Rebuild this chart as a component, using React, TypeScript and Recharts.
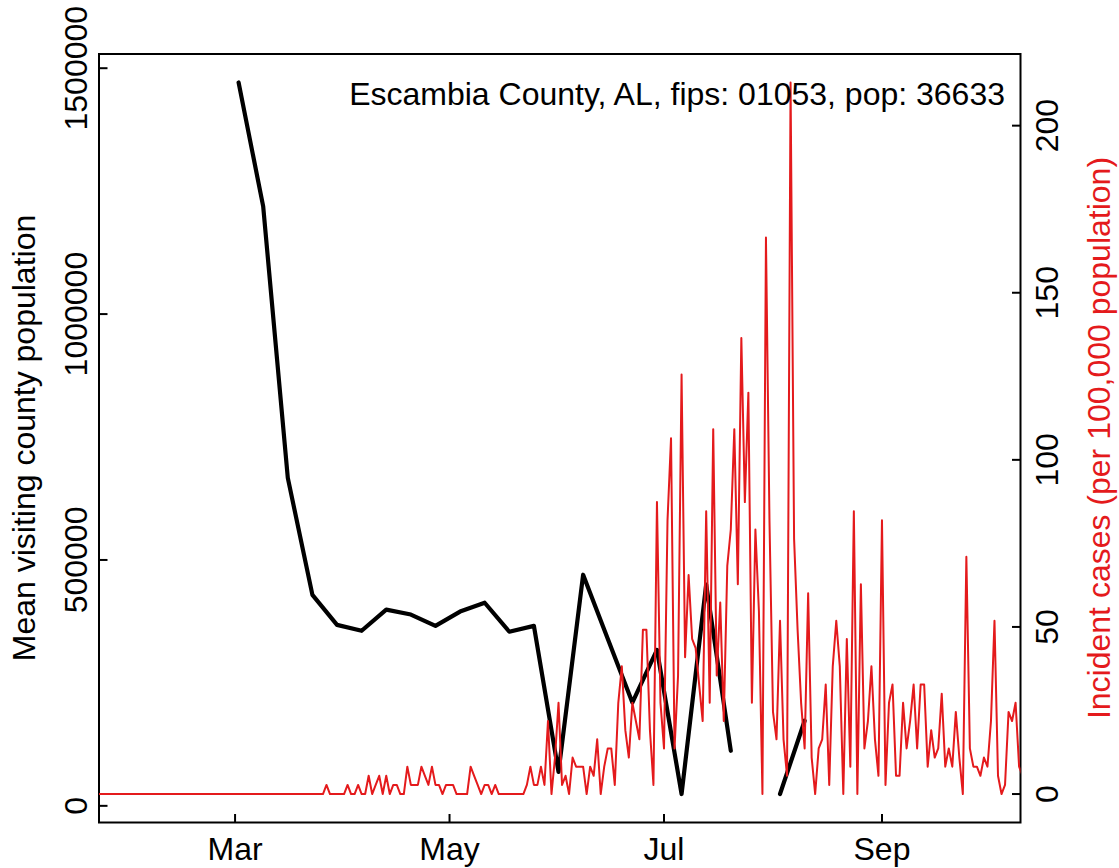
import React from "react";
import { ComposedChart, Line, XAxis, YAxis, ReferenceArea } from "recharts";

// county shown in the panel
const countyLabel = "Escambia County, AL, fips: 01053, pop: 36633";
const population = 36633;

// x axis is day of year 2020 (Jan 1 = 0)
const monthTicks = [60, 121, 182, 244];
const monthLabels = ["Mar", "May", "Jul", "Sep"];
const dayRange = [21.3, 283.4];

const visitorTicks = [0, 500000, 1000000, 1500000];
const incidenceTicks = [0, 50, 100, 150, 200];

// daily new cases, starting at day 20
const firstCaseDay = 20;
const dailyCases = [
  0, 0, 0, 0, 0, 0, 0, 0, 0, 0, // 20
  0, 0, 0, 0, 0, 0, 0, 0, 0, 0, // 30
  0, 0, 0, 0, 0, 0, 0, 0, 0, 0, // 40
  0, 0, 0, 0, 0, 0, 0, 0, 0, 0, // 50
  0, 0, 0, 0, 0, 0, 0, 0, 0, 0, // 60
  0, 0, 0, 0, 0, 0, 0, 0, 0, 0, // 70
  0, 0, 0, 0, 0, 0, 1, 0, 0, 0, // 80
  0, 0, 1, 0, 0, 1, 0, 0, 2, 0, // 90
  1, 2, 0, 2, 0, 1, 1, 0, 0, 3, // 100
  1, 1, 1, 3, 2, 1, 3, 1, 1, 0, // 110
  1, 1, 1, 0, 0, 0, 0, 3, 2, 1, // 120
  0, 1, 1, 0, 1, 0, 0, 0, 0, 0, // 130
  0, 0, 0, 1, 3, 1, 1, 3, 1, 8, // 140
  0, 4, 10, 1, 2, 0, 4, 3, 3, 3, // 150
  0, 3, 2, 6, 0, 3, 5, 5, 1, 10, // 160
  14, 7, 4, 10, 8, 6, 18, 18, 7, 1, // 170
  32, 10, 5, 30, 39, 5, 13, 46, 15, 24, // 180
  17, 16, 12, 8, 31, 10, 40, 13, 21, 8, // 190
  25, 29, 40, 23, 50, 32, 44, 10, 29, 20, // 200
  0, 61, 30, 9, 6, 19, 6, 2, 78, 28, // 210
  18, 10, 5, 22, 4, 0, 5, 6, 12, 1, // 220
  14, 19, 14, 0, 17, 3, 31, 0, 23, 5, // 230
  8, 14, 6, 2, 30, 1, 10, 12, 2, 2, // 240
  10, 5, 8, 12, 5, 12, 12, 3, 7, 4, // 250
  5, 11, 3, 5, 3, 9, 4, 0, 26, 5, // 260
  3, 3, 2, 4, 3, 8, 19, 2, 0, 1, // 270
  9, 8, 10, 3, 2, // 280
];

// weekly mean visiting population, starting at day 61
const firstWeekDay = 61;
const weeklyVisitors = [
  1471000, 1219000, 667000, 429000, 368000, 356000, 399000, 389000,
  366000, 395000, 413000, 354000, 366000, 69000, 470000, 340000,
  210000, 317000, 24000, 450000, 112000, null, 24000, 173000,
];

const caseData = dailyCases.map((c, i) => ({
  day: firstCaseDay + i,
  rate: (c * 100000) / population,
}));
const visitData = weeklyVisitors.map((v, i) => ({ day: firstWeekDay + 7 * i, visitors: v }));

// R style 4% padding
const pad = (lo: number, hi: number) => [lo - 0.04 * (hi - lo), hi + 0.04 * (hi - lo)];
const visitVals = weeklyVisitors.filter((v) => v != null) as number[];
const leftDomain = pad(Math.min(...visitVals), Math.max(...visitVals));
const rightDomain = pad(0, Math.max(...caseData.map((d) => d.rate)));

const RED = "#e41a1c";
const FONT = 32;

const BottomTick = (props: any) => {
  const { x, y, payload } = props;
  const idx = monthTicks.indexOf(payload.value);
  return (
    <g>
      <line x1={x} y1={y} x2={x} y2={y - 8.5} stroke="#000" strokeWidth={2} />
      <text x={x} y={y + 37.5} textAnchor="middle" fontSize={FONT} fill="#000">
        {monthLabels[idx]}
      </text>
    </g>
  );
};

const LeftTick = (props: any) => {
  const { x, y, payload } = props;
  const tx = x - 12;
  return (
    <g>
      <line x1={x} y1={y} x2={x + 8.5} y2={y} stroke="#000" strokeWidth={2} />
      <text x={tx} y={y} transform={`rotate(-90 ${tx} ${y})`} textAnchor="middle" fontSize={FONT} fill="#000">
        {String(payload.value)}
      </text>
    </g>
  );
};

const RightTick = (props: any) => {
  const { x, y, payload } = props;
  const tx = x + 37.5;
  return (
    <g>
      <line x1={x} y1={y} x2={x - 8.5} y2={y} stroke="#000" strokeWidth={2} />
      <text x={tx} y={y} transform={`rotate(-90 ${tx} ${y})`} textAnchor="middle" fontSize={FONT} fill="#000">
        {String(payload.value)}
      </text>
    </g>
  );
};

export default function App() {
  return (
    <div
      style={{
        position: "absolute",
        left: 0,
        top: 0,
        width: 1119,
        height: 868,
        background: "#fff",
        fontFamily: "'Liberation Sans', Arial, Helvetica, sans-serif",
      }}
    >
      <ComposedChart width={1119} height={868} margin={{ top: 54, right: 0, bottom: 0, left: 0 }}>
        <XAxis
          type="number"
          dataKey="day"
          domain={dayRange}
          allowDataOverflow
          ticks={monthTicks}
          interval={0}
          height={45.5}
          tickSize={0}
          tickMargin={0}
          tickLine={false}
          axisLine={false}
          tick={<BottomTick />}
        />
        <YAxis
          yAxisId="left"
          type="number"
          domain={leftDomain}
          allowDataOverflow
          ticks={visitorTicks}
          interval={0}
          width={99}
          tickSize={0}
          tickMargin={0}
          tickLine={false}
          axisLine={false}
          tick={<LeftTick />}
        />
        <YAxis
          yAxisId="right"
          orientation="right"
          type="number"
          domain={rightDomain}
          allowDataOverflow
          ticks={incidenceTicks}
          interval={0}
          width={98.5}
          tickSize={0}
          tickMargin={0}
          tickLine={false}
          axisLine={false}
          tick={<RightTick />}
        />
        <Line
          yAxisId="left"
          data={visitData}
          dataKey="visitors"
          type="linear"
          stroke="#000"
          strokeWidth={4.2}
          strokeLinejoin="round"
          strokeLinecap="round"
          dot={false}
          activeDot={false}
          connectNulls={false}
          isAnimationActive={false}
        />
        <Line
          yAxisId="right"
          data={caseData}
          dataKey="rate"
          type="linear"
          stroke={RED}
          strokeWidth={2}
          strokeLinejoin="round"
          dot={false}
          activeDot={false}
          isAnimationActive={false}
        />
        <ReferenceArea
          yAxisId="left"
          x1={dayRange[0]}
          x2={dayRange[1]}
          y1={leftDomain[0]}
          y2={leftDomain[1]}
          fill="none"
          stroke="#000"
          strokeWidth={2}
          ifOverflow="visible"
        />
      </ComposedChart>
      <svg
        width={1119}
        height={868}
        style={{ position: "absolute", left: 0, top: 0, pointerEvents: "none" }}
      >
        <text x={1005} y={105} textAnchor="end" fontSize={FONT} fill="#000">
          {countyLabel}
        </text>
        <text x={35} y={438} transform="rotate(-90 35 438)" textAnchor="middle" fontSize={FONT} fill="#000">
          Mean visiting county population
        </text>
        <text x={1110} y={438} transform="rotate(-90 1110 438)" textAnchor="middle" fontSize={FONT} fill={RED}>
          Incident cases (per 100,000 population)
        </text>
      </svg>
    </div>
  );
}
